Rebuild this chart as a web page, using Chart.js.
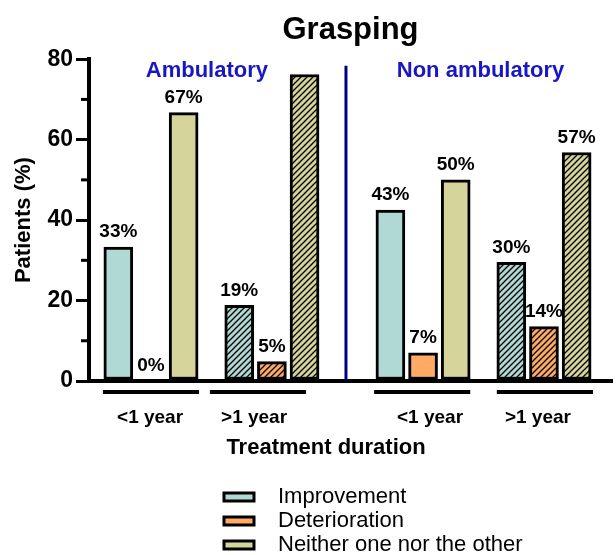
<!DOCTYPE html>
<html>
<head>
<meta charset="utf-8">
<script src="https://cdn.jsdelivr.net/npm/chart.js@4.4.1/dist/chart.umd.min.js"></script>
<style>
  html, body { margin: 0; padding: 0; background: #fff; }
  #wrap { width: 616px; height: 555px; }
</style>
</head>
<body>
<div id="wrap"><canvas id="chart"></canvas></div>
<script>
// data
const seriesNames = ['Improvement', 'Deterioration', 'Neither one nor the other'];
const groupLabels = ['<1 year', '>1 year', '<1 year', '>1 year'];
const groupPos = [2, 6, 11, 15];            // bar group centres on the x scale
const labelPos = [1.97, 5.41, 11.23, 14.8];  // where the duration labels sit
const linePos = [2.0, 5.54, 10.97, 15.03];   // centres of the underline bars
const hatched = [false, true, false, true];  // >1 year bars are hatched
const improvement = [33.3, 18.8, 42.5, 29.5];
const deterioration = [0, 4.8, 7, 13.5];
const neither = [66.7, 76.2, 50, 56.8];
const improvementText = ['33%', '19%', '43%', '30%'];
const deteriorationText = ['0%', '5%', '7%', '14%'];
const neitherText = ['67%', null, '50%', '57%'];
const sectionNames = ['Ambulatory', 'Non ambulatory'];
const sectionPos = [3.85, 12.9];
const dividerPos = 8.45;
const yMajor = [0, 20, 40, 60, 80];
const yMinor = [10, 30, 50, 70];

const colors = ['#b1d9d4', '#ffab66', '#d5d59b'];
const seriesOffset = [-1.08, 0, 1.08];
const FONT = "'Liberation Sans', Arial, sans-serif";

function hatch(color) {
  const s = 6;
  const c = document.createElement('canvas');
  c.width = s; c.height = s;
  const g = c.getContext('2d');
  g.fillStyle = color;
  g.fillRect(0, 0, s, s);
  g.strokeStyle = '#000';
  g.lineWidth = 1.3;
  g.beginPath();
  g.moveTo(-1, s + 1); g.lineTo(s + 1, -1);
  g.moveTo(-1, 1); g.lineTo(1, -1);
  g.moveTo(s - 1, s + 1); g.lineTo(s + 1, s - 1);
  g.stroke();
  return g.createPattern(c, 'repeat');
}

const values = [improvement, deterioration, neither];
const texts = [improvementText, deteriorationText, neitherText];

const datasets = values.map((vals, s) => ({
  label: seriesNames[s],
  data: vals.map((v, i) => ({ x: groupPos[i] + seriesOffset[s], y: v })),
  backgroundColor: vals.map((v, i) => hatched[i] ? hatch(colors[s]) : colors[s]),
  borderColor: '#000',
  borderWidth: 3,
  borderSkipped: false,
  barThickness: 29,
  grouped: false
}));

const overlay = {
  id: 'overlay',
  afterDatasetsDraw(chart) {
    const { ctx, chartArea, scales: { x, y } } = chart;
    ctx.save();

    // minor y ticks
    ctx.strokeStyle = '#000';
    ctx.lineWidth = 3;
    yMinor.forEach(v => {
      const py = y.getPixelForValue(v);
      ctx.beginPath();
      ctx.moveTo(chartArea.left - 1, py);
      ctx.lineTo(chartArea.left - 8, py);
      ctx.stroke();
    });

    // divider between sections
    ctx.strokeStyle = '#000080';
    ctx.lineWidth = 3;
    const dx = x.getPixelForValue(dividerPos);
    ctx.beginPath();
    ctx.moveTo(dx, y.getPixelForValue(78.4));
    ctx.lineTo(dx, y.getPixelForValue(0));
    ctx.stroke();

    // underline bars below each duration group
    ctx.strokeStyle = '#000';
    ctx.lineWidth = 4;
    linePos.forEach(p => {
      ctx.beginPath();
      ctx.moveTo(x.getPixelForValue(p - 1.59), chartArea.bottom + 11);
      ctx.lineTo(x.getPixelForValue(p + 1.59), chartArea.bottom + 11);
      ctx.stroke();
    });

    // value labels
    ctx.fillStyle = '#000';
    ctx.font = 'bold 19px ' + FONT;
    ctx.textAlign = 'center';
    ctx.textBaseline = 'middle';
    texts.forEach((arr, s) => {
      chart.getDatasetMeta(s).data.forEach((el, i) => {
        if (arr[i]) ctx.fillText(arr[i], el.x, el.y - 15);
      });
    });

    // section names
    ctx.fillStyle = '#1717c6';
    ctx.font = 'bold 22px ' + FONT;
    sectionNames.forEach((t, i) => {
      ctx.fillText(t, x.getPixelForValue(sectionPos[i]), y.getPixelForValue(77));
    });

    // x axis title
    ctx.fillStyle = '#000';
    ctx.font = 'bold 22px ' + FONT;
    ctx.fillText('Treatment duration', 326, 448);

    // legend
    ctx.textAlign = 'left';
    ctx.font = '22px ' + FONT;
    seriesNames.forEach((name, s) => {
      const cy = 497 + s * 24;
      ctx.fillStyle = colors[s];
      ctx.fillRect(224, cy - 4, 30, 8);
      ctx.strokeStyle = '#000';
      ctx.lineWidth = 3;
      ctx.strokeRect(224, cy - 4, 30, 8);
      ctx.fillStyle = '#000';
      ctx.fillText(name, 278, cy);
    });

    ctx.restore();
  }
};

new Chart(document.getElementById('chart'), {
  type: 'bar',
  data: { datasets },
  plugins: [overlay],
  options: {
    responsive: true,
    maintainAspectRatio: false,
    animation: false,
    layout: { padding: { left: 0, right: 4, top: 0, bottom: 0 } },
    plugins: {
      legend: { display: false },
      tooltip: { enabled: false },
      title: {
        display: true,
        text: 'Grasping',
        fullSize: false,
        color: '#000',
        font: { family: FONT, size: 31, weight: 'bold' },
        padding: { top: 12, bottom: 10 }
      }
    },
    scales: {
      x: {
        type: 'linear',
        min: -0.05,
        max: 17.25,
        offset: false,
        grid: { display: false, offset: false },
        border: { color: '#000', width: 4 },
        afterBuildTicks: s => { s.ticks = labelPos.map(v => ({ value: v })); },
        afterFit: s => { s.height = 174; },
        ticks: {
          autoSkip: false,
          maxRotation: 0,
          padding: 17,
          color: '#000',
          font: { family: FONT, size: 19, weight: 'bold' },
          callback: (v, i) => groupLabels[i]
        }
      },
      y: {
        min: 0,
        max: 80,
        afterBuildTicks: s => { s.ticks = yMajor.map(v => ({ value: v })); },
        afterFit: s => { s.width = 89; },
        grid: { drawOnChartArea: false, tickLength: 13, color: '#000', lineWidth: 3 },
        border: { color: '#000', width: 4 },
        ticks: {
          padding: 3,
          color: '#000',
          font: { family: FONT, size: 23, weight: 'bold' }
        },
        title: {
          display: true,
          text: 'Patients (%)',
          color: '#000',
          font: { family: FONT, size: 22, weight: 'bold' },
          padding: { top: 11, bottom: 0 }
        }
      }
    }
  }
});
</script>
</body>
</html>
